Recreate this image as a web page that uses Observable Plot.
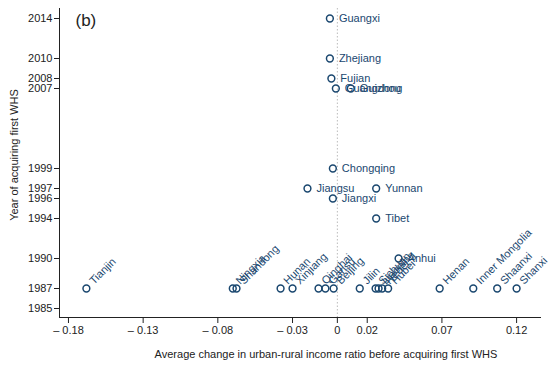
<!DOCTYPE html>
<html><head><meta charset="utf-8">
<script src="https://cdn.jsdelivr.net/npm/d3@7"></script>
<script src="https://cdn.jsdelivr.net/npm/@observablehq/plot@0.6"></script>
<style>
body{margin:0;background:#fff;}
svg{font-family:"Liberation Sans",Arial,sans-serif;}
</style>
</head><body><div id="chart"></div>
<script>
const provinces = ["Guangxi","Zhejiang","Fujian","Guangdong","Guizhou","Chongqing","Jiangsu","Yunnan","Jiangxi","Tibet","Anhui",
  "Tianjin","Ningxia","Shandong","Hunan","Xinjiang","Qinghai","Gansu","Beijing","Jilin","Sichuan","Liaoning","Hebei","Hubei","Henan","Inner Mongolia","Shaanxi","Shanxi"];
const avgChange = [-0.005,-0.005,-0.004,-0.001,0.009,-0.003,-0.020,0.026,-0.003,0.026,0.041,
  -0.168,-0.070,-0.0675,-0.038,-0.030,-0.0126,-0.008,-0.0025,0.015,0.0256,0.0276,0.030,0.034,0.0685,0.091,0.107,0.120];
const yearFirstWHS = [2014,2010,2008,2007,2007,1999,1997,1997,1996,1994,1990,
  1987,1987,1987,1987,1987,1987,1987,1987,1987,1987,1987,1987,1987,1987,1987,1987,1987];
const xTicks = [-0.18,-0.13,-0.08,-0.03,0,0.02,0.07,0.12];
const yTicks = [1985,1987,1990,1994,1996,1997,1999,2007,2008,2010,2014];

const data = provinces.map((p,i)=>({province:p, change:avgChange[i], year:yearFirstWHS[i]}));
const flat = data.filter(d=>d.year!==1987);
const rot = data.filter(d=>d.year===1987);
const navy = "#1a476f";
const fmt = d => d < 0 ? "\u2013 " + String(Math.abs(d)) : String(d);
const xDomain = [-0.186, 0.136];
const yDomain = [1984.1, 2015];

const chart = Plot.plot({
  width:550, height:365,
  marginLeft:59, marginRight:10, marginTop:8, marginBottom:48,
  style:{fontFamily:'"Liberation Sans",Arial,sans-serif', fontSize:"11px", color:"#222", background:"#fff"},
  x:{domain:xDomain, ticks:xTicks, tickFormat:fmt, label:null, line:true, tickSize:6, tickPadding:3},
  y:{domain:yDomain, ticks:yTicks, tickFormat:"d", label:null, line:true, tickSize:5, tickPadding:2},
  marks:[
    Plot.ruleX([0], {stroke:"#bbb", strokeDasharray:"1.5,2", strokeWidth:1}),
    Plot.dot(data, {x:"change", y:"year", r:3.4, stroke:navy, strokeWidth:1.5, fill:"none"}),
    Plot.text(flat, {x:"change", y:"year", text:"province", textAnchor:"start", dx:9, fill:navy, fontSize:11}),
    Plot.text(rot, {x:"change", y:"year", text:"province", textAnchor:"start", rotate:-45, dx:5, dy:-6, fill:navy, fontSize:11}),
    Plot.text(["(b)"], {frameAnchor:"top-left", dx:16, dy:12, lineAnchor:"middle", textAnchor:"start", fontSize:17, fill:"#222"}),
    Plot.text(["Average change in urban-rural income ratio before acquiring first WHS"], {frameAnchor:"bottom", dx:26, dy:37, lineAnchor:"middle", textAnchor:"middle", fontSize:11, fill:"#222"}),
    Plot.text([{t:"Year of acquiring first WHS"}], {x:() => xDomain[0], y:() => (yDomain[0] + yDomain[1]) / 2 + 0.8, text:"t", dx:-45, rotate:-90, lineAnchor:"middle", textAnchor:"middle", fontSize:11, fill:"#222"})
  ]
});
document.getElementById("chart").appendChild(chart);
</script>
</body></html>
